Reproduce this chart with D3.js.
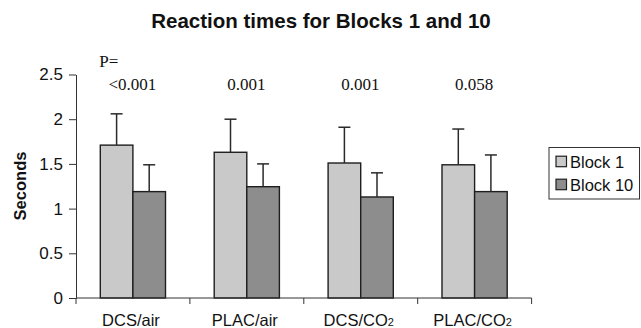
<!DOCTYPE html>
<html>
<head>
<meta charset="utf-8">
<script src="https://cdn.jsdelivr.net/npm/d3@7"></script>
<style>
  html, body { margin: 0; padding: 0; background: #fff; }
  svg { display: block; }
</style>
</head>
<body>
<svg id="chart" width="641" height="328"></svg>
<script>
// ---- data ----
const categories = ["DCS/air", "PLAC/air", "DCS/CO2", "PLAC/CO2"];
const seriesNames = ["Block 1", "Block 10"];
const block1Means = [1.71, 1.63, 1.51, 1.49];
const block1ErrTop = [2.06, 2.00, 1.91, 1.89];
const block10Means = [1.19, 1.245, 1.13, 1.19];
const block10ErrTop = [1.49, 1.50, 1.40, 1.60];
const pValues = ["<0.001", "0.001", "0.001", "0.058"];
const yTicks = [0, 0.5, 1, 1.5, 2, 2.5];

const colors = ["#c9c9c9", "#8d8d8d"];
const sans = "'Liberation Sans', Arial, sans-serif";
const serif = "'Liberation Serif', 'Times New Roman', serif";

const svg = d3.select("#chart");

const x0 = d3.scaleBand().domain(categories).range([76, 531.6]).paddingInner(0).paddingOuter(0);
const x1 = d3.scaleBand().domain(seriesNames).range([24.3, 24.3 + 65.2]).padding(0);
const y = d3.scaleLinear().domain([0, 2.5]).range([298, 74.5]);

const rows = categories.map((c, i) => ({
  cat: c,
  vals: [
    { s: seriesNames[0], v: block1Means[i], e: block1ErrTop[i], c: colors[0] },
    { s: seriesNames[1], v: block10Means[i], e: block10ErrTop[i], c: colors[1] }
  ]
}));

// Title
svg.append("text")
  .attr("x", 321).attr("y", 28)
  .attr("text-anchor", "middle")
  .style("font-family", sans).style("font-weight", "bold").style("font-size", "20.5px")
  .attr("fill", "#111")
  .text("Reaction times for Blocks 1 and 10");

// Y axis
const yAxis = d3.axisLeft(y).tickValues(yTicks).tickFormat(d3.format("")).tickSize(7).tickSizeOuter(0).tickPadding(6);
const gy = svg.append("g").attr("transform", "translate(76,0)").call(yAxis);
gy.selectAll("path, line").attr("stroke", "#333").attr("stroke-width", 1);
gy.selectAll("text").style("font-family", sans).style("font-size", "17px").attr("fill", "#111");

// Y label
svg.append("text")
  .attr("transform", "translate(26,186) rotate(-90)")
  .attr("text-anchor", "middle")
  .style("font-family", sans).style("font-weight", "bold").style("font-size", "16.5px")
  .attr("fill", "#111")
  .text("Seconds");

// Bars
const groups = svg.append("g").selectAll("g").data(rows).join("g")
  .attr("transform", d => `translate(${x0(d.cat)},0)`);

groups.selectAll("rect").data(d => d.vals).join("rect")
  .attr("x", d => x1(d.s))
  .attr("y", d => y(d.v))
  .attr("width", x1.bandwidth())
  .attr("height", d => y(0) - y(d.v))
  .attr("fill", d => d.c)
  .attr("stroke", "#1e1e1e")
  .attr("stroke-width", 1.4);

// Error bars (upward only)
const eb = groups.selectAll("g.err").data(d => d.vals).join("g").attr("class", "err");
eb.append("line")
  .attr("x1", d => x1(d.s) + x1.bandwidth() / 2)
  .attr("x2", d => x1(d.s) + x1.bandwidth() / 2)
  .attr("y1", d => y(d.v))
  .attr("y2", d => y(d.e))
  .attr("stroke", "#2a2a2a").attr("stroke-width", 1.5);
eb.append("line")
  .attr("x1", d => x1(d.s) + x1.bandwidth() / 2 - 6)
  .attr("x2", d => x1(d.s) + x1.bandwidth() / 2 + 6)
  .attr("y1", d => y(d.e))
  .attr("y2", d => y(d.e))
  .attr("stroke", "#2a2a2a").attr("stroke-width", 1.5);

// X axis line and ticks at band boundaries
const xr = x0.range();
svg.append("line").attr("x1", xr[0]).attr("x2", xr[1]).attr("y1", y(0)).attr("y2", y(0))
  .attr("stroke", "#333").attr("stroke-width", 1);
const bounds = categories.map(c => x0(c)).concat([x0(categories[categories.length - 1]) + x0.bandwidth()]);
svg.append("g").selectAll("line").data(bounds).join("line")
  .attr("x1", d => d).attr("x2", d => d)
  .attr("y1", y(0)).attr("y2", y(0) + 6)
  .attr("stroke", "#333").attr("stroke-width", 1);

// X labels (with subscript 2)
const xl = svg.append("g").selectAll("text").data(categories).join("text")
  .attr("x", d => x0(d) + x0.bandwidth() / 2 - 2)
  .attr("y", 325.5)
  .attr("text-anchor", "middle")
  .style("font-family", sans).style("font-size", "16.5px")
  .attr("fill", "#111");
xl.each(function(d) {
  const t = d3.select(this);
  if (d.endsWith("CO2")) {
    t.append("tspan").text(d.slice(0, -1));
    t.append("tspan").text("2").style("font-size", "11px");
  } else {
    t.text(d);
  }
});

// P values
svg.append("text")
  .attr("x", x0(categories[0]) + x1(seriesNames[0]) - 1)
  .attr("y", 67)
  .style("font-family", serif).style("font-size", "17px").attr("fill", "#111")
  .text("P=");
svg.append("g").selectAll("text").data(pValues).join("text")
  .attr("x", (d, i) => x0(categories[i]) + x0.bandwidth() / 2 - 0.5)
  .attr("y", 89.5)
  .attr("text-anchor", "middle")
  .style("font-family", serif).style("font-size", "17px").attr("fill", "#111")
  .text(d => d);

// Legend
const lg = svg.append("g");
lg.append("rect").attr("x", 549).attr("y", 147.5).attr("width", 90.5).attr("height", 51.5)
  .attr("fill", "#fff").attr("stroke", "#333").attr("stroke-width", 1);
const li = lg.selectAll("g.item").data(seriesNames).join("g").attr("class", "item")
  .attr("transform", (d, i) => `translate(556,${161.5 + i * 23})`);
li.append("rect").attr("x", 0).attr("y", -5.3).attr("width", 10.5).attr("height", 10.5)
  .attr("fill", (d, i) => colors[i]).attr("stroke", "#1e1e1e").attr("stroke-width", 1.2);
li.append("text").attr("x", 14).attr("y", 6)
  .style("font-family", sans).style("font-size", "16.5px").attr("fill", "#111")
  .text(d => d);
</script>
</body>
</html>
